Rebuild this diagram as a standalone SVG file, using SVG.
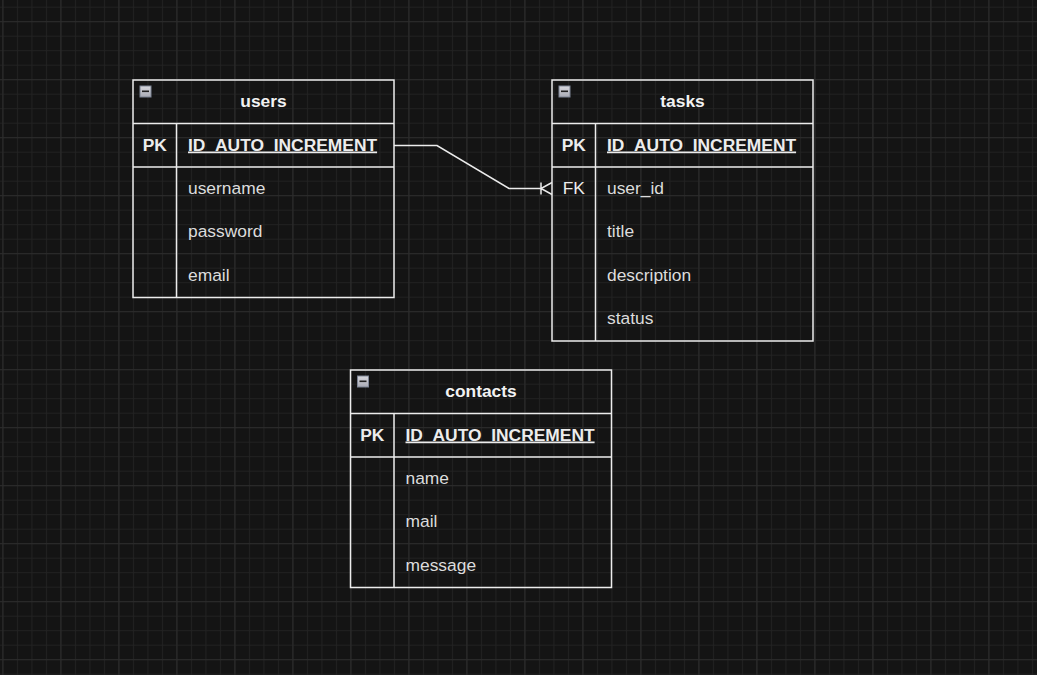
<svg xmlns="http://www.w3.org/2000/svg" width="1037" height="675" viewBox="0 0 1037 675">
<defs>
<pattern id="minor" patternUnits="userSpaceOnUse" x="2.4" y="6.7" width="14.5" height="14.5">
<path d="M0 0.5 H14.5 M0.5 0 V14.5" stroke="#222222" stroke-width="1" fill="none"/>
</pattern>
<pattern id="major" patternUnits="userSpaceOnUse" x="2.4" y="21.2" width="58" height="58">
<path d="M0 0.5 H58 M0.5 0 V58" stroke="#2c2c2c" stroke-width="1" fill="none"/>
</pattern>
<linearGradient id="btn" x1="0" y1="0" x2="0" y2="1">
<stop offset="0" stop-color="#d8d8de"/>
<stop offset="1" stop-color="#a8aab4"/>
</linearGradient>
<g id="minus">
<rect x="0.5" y="0.5" width="11" height="11" fill="url(#btn)" stroke="#7d8494" stroke-width="1"/>
<rect x="2.5" y="5" width="7" height="1.6" fill="#222"/>
</g>
</defs>
<style>
.box{fill:none;stroke:#ececec;stroke-width:1.5}
.ln{stroke:#ececec;stroke-width:1.5;fill:none}
.hd{font-family:"Liberation Sans",Arial,sans-serif;font-size:17.4px;font-weight:bold;fill:#f2f2f2;text-anchor:middle}
.key{font-family:"Liberation Sans",Arial,sans-serif;font-size:17.4px;fill:#ececec;text-anchor:middle}
.pkk{font-family:"Liberation Sans",Arial,sans-serif;font-size:17.4px;font-weight:bold;fill:#ececec;text-anchor:middle}
.pk{font-family:"Liberation Sans",Arial,sans-serif;font-size:17.4px;font-weight:bold;fill:#ececec;text-decoration:underline}
.f{font-family:"Liberation Sans",Arial,sans-serif;font-size:17.4px;fill:#dcdcdc}
.conn{stroke:#ececec;stroke-width:1.5;fill:none}
</style>
<rect width="1037" height="675" fill="#141414"/>
<rect width="1037" height="675" fill="url(#minor)"/>
<rect width="1037" height="675" fill="url(#major)"/>

<g id="connectors">
<path class="conn" d="M394 145.5 H437 L509 188.5 H541"/>
<path class="conn" d="M541 182.5 V194.5 M552 182.5 L541 188.5 L552 194.5"/>
</g>

<g id="users">
<rect class="box" x="133" y="80" width="261" height="217.5"/>
<line class="ln" x1="133" y1="123.5" x2="394" y2="123.5"/>
<line class="ln" x1="133" y1="167" x2="394" y2="167"/>
<line class="ln" x1="176.5" y1="123.5" x2="176.5" y2="297.5"/>
<use href="#minus" x="139.5" y="85.5"/>
<text class="hd" x="263.5" y="106.5">users</text>
<text class="pkk" x="154.75" y="150.5">PK</text>
<text class="pk" x="188" y="150.5">ID_AUTO_INCREMENT</text>
<text class="f" x="188" y="193.5">username</text>
<text class="f" x="188" y="237">password</text>
<text class="f" x="188" y="280.5">email</text>
</g>

<g id="tasks">
<rect class="box" x="552" y="80" width="261" height="261"/>
<line class="ln" x1="552" y1="123.5" x2="813" y2="123.5"/>
<line class="ln" x1="552" y1="167" x2="813" y2="167"/>
<line class="ln" x1="595.5" y1="123.5" x2="595.5" y2="341"/>
<use href="#minus" x="558.5" y="85.5"/>
<text class="hd" x="682.5" y="106.5">tasks</text>
<text class="pkk" x="573.75" y="150.5">PK</text>
<text class="pk" x="607" y="150.5">ID_AUTO_INCREMENT</text>
<text class="key" x="573.75" y="193.5">FK</text>
<text class="f" x="607" y="193.5">user_id</text>
<text class="f" x="607" y="237">title</text>
<text class="f" x="607" y="280.5">description</text>
<text class="f" x="607" y="324">status</text>
</g>

<g id="contacts">
<rect class="box" x="350.5" y="370" width="261" height="217.5"/>
<line class="ln" x1="350.5" y1="413.5" x2="611.5" y2="413.5"/>
<line class="ln" x1="350.5" y1="457" x2="611.5" y2="457"/>
<line class="ln" x1="394" y1="413.5" x2="394" y2="587.5"/>
<use href="#minus" x="357" y="375.5"/>
<text class="hd" x="481" y="396.5">contacts</text>
<text class="pkk" x="372.25" y="440.5">PK</text>
<text class="pk" x="405.5" y="440.5">ID_AUTO_INCREMENT</text>
<text class="f" x="405.5" y="483.5">name</text>
<text class="f" x="405.5" y="527">mail</text>
<text class="f" x="405.5" y="570.5">message</text>
</g>
</svg>
